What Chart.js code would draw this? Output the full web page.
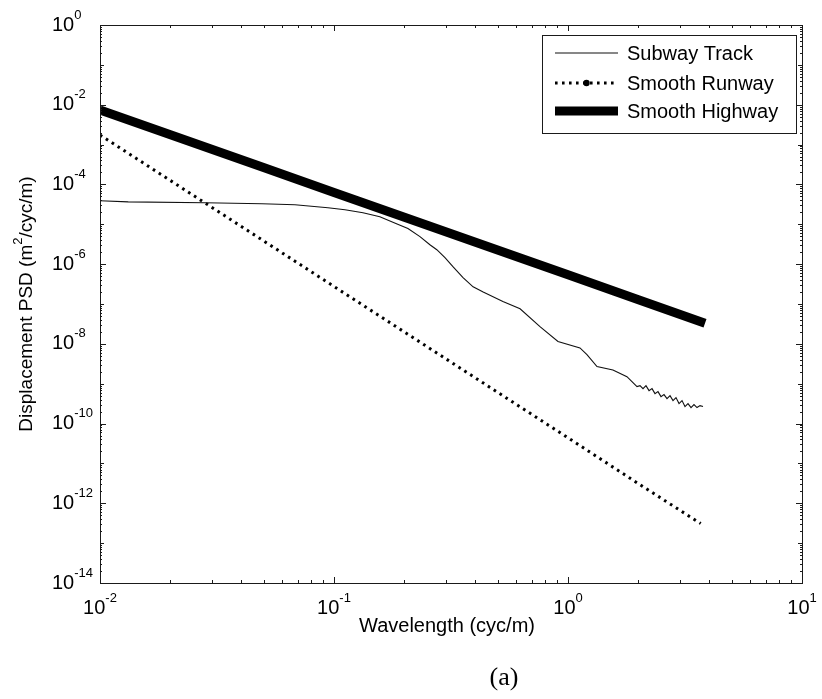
<!DOCTYPE html>
<html>
<head>
<meta charset="utf-8">
<script src="https://cdn.jsdelivr.net/npm/chart.js@4.4.1/dist/chart.umd.min.js"></script>
<style>
  html, body { margin: 0; padding: 0; background: #fff; }
  #wrap { width: 822px; height: 699px; position: relative; }
</style>
</head>
<body>
<div id="wrap"><canvas id="psd" width="822" height="699"></canvas></div>
<script>
// Wavenumber (cyc/m) and displacement PSD (m^2/cyc/m) for each road / track profile
const subwayX = [0.01, 0.0132, 0.0281, 0.0492, 0.0681, 0.0942, 0.1114, 0.133, 0.157, 0.186, 0.207, 0.233,
  0.257, 0.275, 0.298, 0.323, 0.356, 0.393, 0.434, 0.527, 0.624, 0.759, 0.906, 1.125, 1.205, 1.33, 1.556, 1.786,
  1.972, 2.031, 2.092, 2.154, 2.220, 2.286, 2.354, 2.424, 2.497, 2.572, 2.649, 2.729, 2.810, 2.894,
  2.982, 3.071, 3.162, 3.257, 3.355, 3.455, 3.559, 3.666, 3.775];
const subwayY = [3.88e-5, 3.66e-5, 3.46e-5, 3.27e-5, 3.08e-5, 2.59e-5, 2.31e-5, 1.95e-5, 1.54e-5, 1.02e-5, 7.8e-6, 4.9e-6,
  3.06e-6, 2.3e-6, 1.45e-6, 8.5e-7, 4.6e-7, 2.7e-7, 2.0e-7, 1.15e-7, 7.6e-8, 2.7e-8, 1.15e-8, 7.9e-9, 5.4e-9, 2.7e-9, 2.2e-9, 1.5e-9,
  8.5e-10, 8.95e-10, 7.53e-10, 8.95e-10, 6.71e-10, 7.53e-10, 5.65e-10, 6.34e-10, 4.75e-10, 5.33e-10, 4.24e-10, 5.03e-10, 3.77e-10, 4.48e-10,
  3.17e-10, 3.77e-10, 2.67e-10, 3.17e-10, 2.52e-10, 2.99e-10, 2.52e-10, 2.82e-10, 2.67e-10];

const runwayX = [0.01, 0.02, 0.05, 0.1, 0.2, 0.5, 1, 2, 3.69];
const runwayY = [1.74e-3, 1.25e-4, 3.84e-6, 2.75e-7, 1.98e-8, 6.1e-10, 4.4e-11, 3.1e-12, 3.1e-13];

const highwayX = [0.01, 0.02, 0.05, 0.1, 0.2, 0.5, 1, 2, 3.85];
const highwayY = [7.4e-3, 1.77e-3, 2.65e-4, 6.3e-5, 1.5e-5, 2.25e-6, 5.4e-7, 1.28e-7, 3.3e-8];

const seriesNames = ['Subway Track', 'Smooth Runway', 'Smooth Highway'];
const xDecades = [-2, -1, 0, 1];
const yDecades = [-14, -13, -12, -11, -10, -9, -8, -7, -6, -5, -4, -3, -2, -1, 0];
const yLabelled = [-14, -12, -10, -8, -6, -4, -2, 0];

const pts = (xs, ys) => xs.map((x, i) => ({ x: x, y: ys[i] }));

const SANS = '"Liberation Sans", Arial, sans-serif';

// draws "10" with a raised exponent; align: 'left' or 'center'
function powerLabel(ctx, exp, x, y, align) {
  const base = '10', sup = String(exp);
  ctx.font = '20px ' + SANS;
  const wb = ctx.measureText(base).width;
  ctx.font = '13px ' + SANS;
  const ws = ctx.measureText(sup).width;
  let x0 = align === 'center' ? x - (wb + ws) / 2 : x;
  ctx.textBaseline = 'middle';
  ctx.textAlign = 'left';
  ctx.font = '20px ' + SANS;
  ctx.fillText(base, x0, y);
  ctx.font = '13px ' + SANS;
  ctx.fillText(sup, x0 + wb, y - 10);
}

const axesPlugin = {
  id: 'matlabAxes',
  afterDatasetsDraw(chart) {
    const ctx = chart.ctx;
    const a = chart.chartArea;
    const xs = chart.scales.x, ys = chart.scales.y;
    ctx.save();
    ctx.fillStyle = '#000';
    ctx.strokeStyle = '#1a1a1a';
    ctx.lineWidth = 1;

    // box
    ctx.strokeRect(Math.round(a.left) + 0.5, Math.round(a.top) + 0.5,
      Math.round(a.right - a.left), Math.round(a.bottom - a.top));

    // x ticks (bottom and top, pointing inward)
    ctx.beginPath();
    xDecades.forEach(d => {
      for (let k = 1; k <= 9; k++) {
        if (d === 1 && k > 1) break;
        const px = Math.round(xs.getPixelForValue(k * Math.pow(10, d))) + 0.5;
        const len = k === 1 ? 6 : 3;
        ctx.moveTo(px, a.bottom); ctx.lineTo(px, a.bottom - len);
        ctx.moveTo(px, a.top); ctx.lineTo(px, a.top + len);
      }
    });
    // y ticks (left and right)
    yDecades.forEach(d => {
      for (let k = 1; k <= 9; k++) {
        if (d === 0 && k > 1) break;
        const py = Math.round(ys.getPixelForValue(k * Math.pow(10, d))) + 0.5;
        const len = k === 1 ? (yLabelled.includes(d) ? 6 : 4) : 2;
        ctx.moveTo(a.left, py); ctx.lineTo(a.left + len, py);
        ctx.moveTo(a.right, py); ctx.lineTo(a.right - len, py);
      }
    });
    ctx.stroke();

    // tick labels
    xDecades.forEach(d => powerLabel(ctx, d, xs.getPixelForValue(Math.pow(10, d)), a.bottom + 25, 'center'));
    yLabelled.forEach(d => powerLabel(ctx, d, 52, ys.getPixelForValue(Math.pow(10, d)), 'left'));

    // axis titles
    ctx.textAlign = 'center';
    ctx.textBaseline = 'middle';
    ctx.font = '20px ' + SANS;
    ctx.fillText('Wavelength (cyc/m)', (a.left + a.right) / 2 - 4, 626);

    ctx.save();
    ctx.translate(27, (a.top + a.bottom) / 2);
    ctx.rotate(-Math.PI / 2);
    const p1 = 'Displacement PSD (m', p2 = '2', p3 = '/cyc/m)';
    ctx.font = '19px ' + SANS;
    const w1 = ctx.measureText(p1).width, w3 = ctx.measureText(p3).width;
    ctx.font = '13px ' + SANS;
    const w2 = ctx.measureText(p2).width;
    let tx = -(w1 + w2 + w3) / 2;
    ctx.textAlign = 'left';
    ctx.font = '19px ' + SANS;
    ctx.fillText(p1, tx, 0); tx += w1;
    ctx.font = '13px ' + SANS;
    ctx.fillText(p2, tx, -9); tx += w2;
    ctx.font = '19px ' + SANS;
    ctx.fillText(p3, tx, 0);
    ctx.restore();

    // panel caption
    ctx.font = '26px "Liberation Serif", "Times New Roman", serif';
    ctx.textAlign = 'center';
    ctx.fillText('(a)', 504, 678);

    // legend
    const lx = 542, ly = 35, lw = 254, lh = 98;
    ctx.fillStyle = '#fff';
    ctx.fillRect(lx, ly, lw, lh);
    ctx.strokeStyle = '#1a1a1a';
    ctx.lineWidth = 1;
    ctx.strokeRect(lx + 0.5, ly + 0.5, lw, lh);
    const rows = [53, 83, 111];
    chart.data.datasets.forEach((ds, i) => {
      const yy = rows[i];
      ctx.save();
      ctx.strokeStyle = ds.borderColor;
      ctx.lineWidth = ds.borderWidth;
      ctx.setLineDash(ds.borderDash || []);
      ctx.lineCap = 'butt';
      ctx.beginPath();
      ctx.moveTo(555, yy); ctx.lineTo(618, yy);
      ctx.stroke();
      ctx.setLineDash([]);
      if (i === 1) {
        ctx.fillStyle = '#000';
        ctx.beginPath(); ctx.arc(586.5, yy, 3.2, 0, Math.PI * 2); ctx.fill();
      }
      ctx.restore();
      ctx.fillStyle = '#000';
      ctx.font = '20px ' + SANS;
      ctx.textAlign = 'left';
      ctx.textBaseline = 'middle';
      ctx.fillText(ds.label, 627, yy + 1);
    });
    ctx.restore();
  }
};

new Chart(document.getElementById('psd'), {
  type: 'line',
  data: {
    datasets: [
      { label: seriesNames[0], data: pts(subwayX, subwayY), borderColor: '#111', borderWidth: 1.1,
        pointRadius: 0, tension: 0 },
      { label: seriesNames[1], data: pts(runwayX, runwayY), borderColor: '#000', borderWidth: 3,
        borderDash: [2.6, 4.4], pointRadius: 0, tension: 0 },
      { label: seriesNames[2], data: pts(highwayX, highwayY), borderColor: '#000', borderWidth: 9,
        pointRadius: 0, tension: 0, borderCapStyle: 'butt' }
    ]
  },
  options: {
    responsive: false,
    animation: false,
    devicePixelRatio: 1,
    layout: { padding: { left: 100, right: 20, top: 25, bottom: 116 } },
    plugins: { legend: { display: false }, tooltip: { enabled: false } },
    scales: {
      x: { type: 'logarithmic', min: 0.01, max: 10, display: false },
      y: { type: 'logarithmic', min: 1e-14, max: 1, display: false }
    }
  },
  plugins: [axesPlugin]
});
</script>
</body>
</html>
